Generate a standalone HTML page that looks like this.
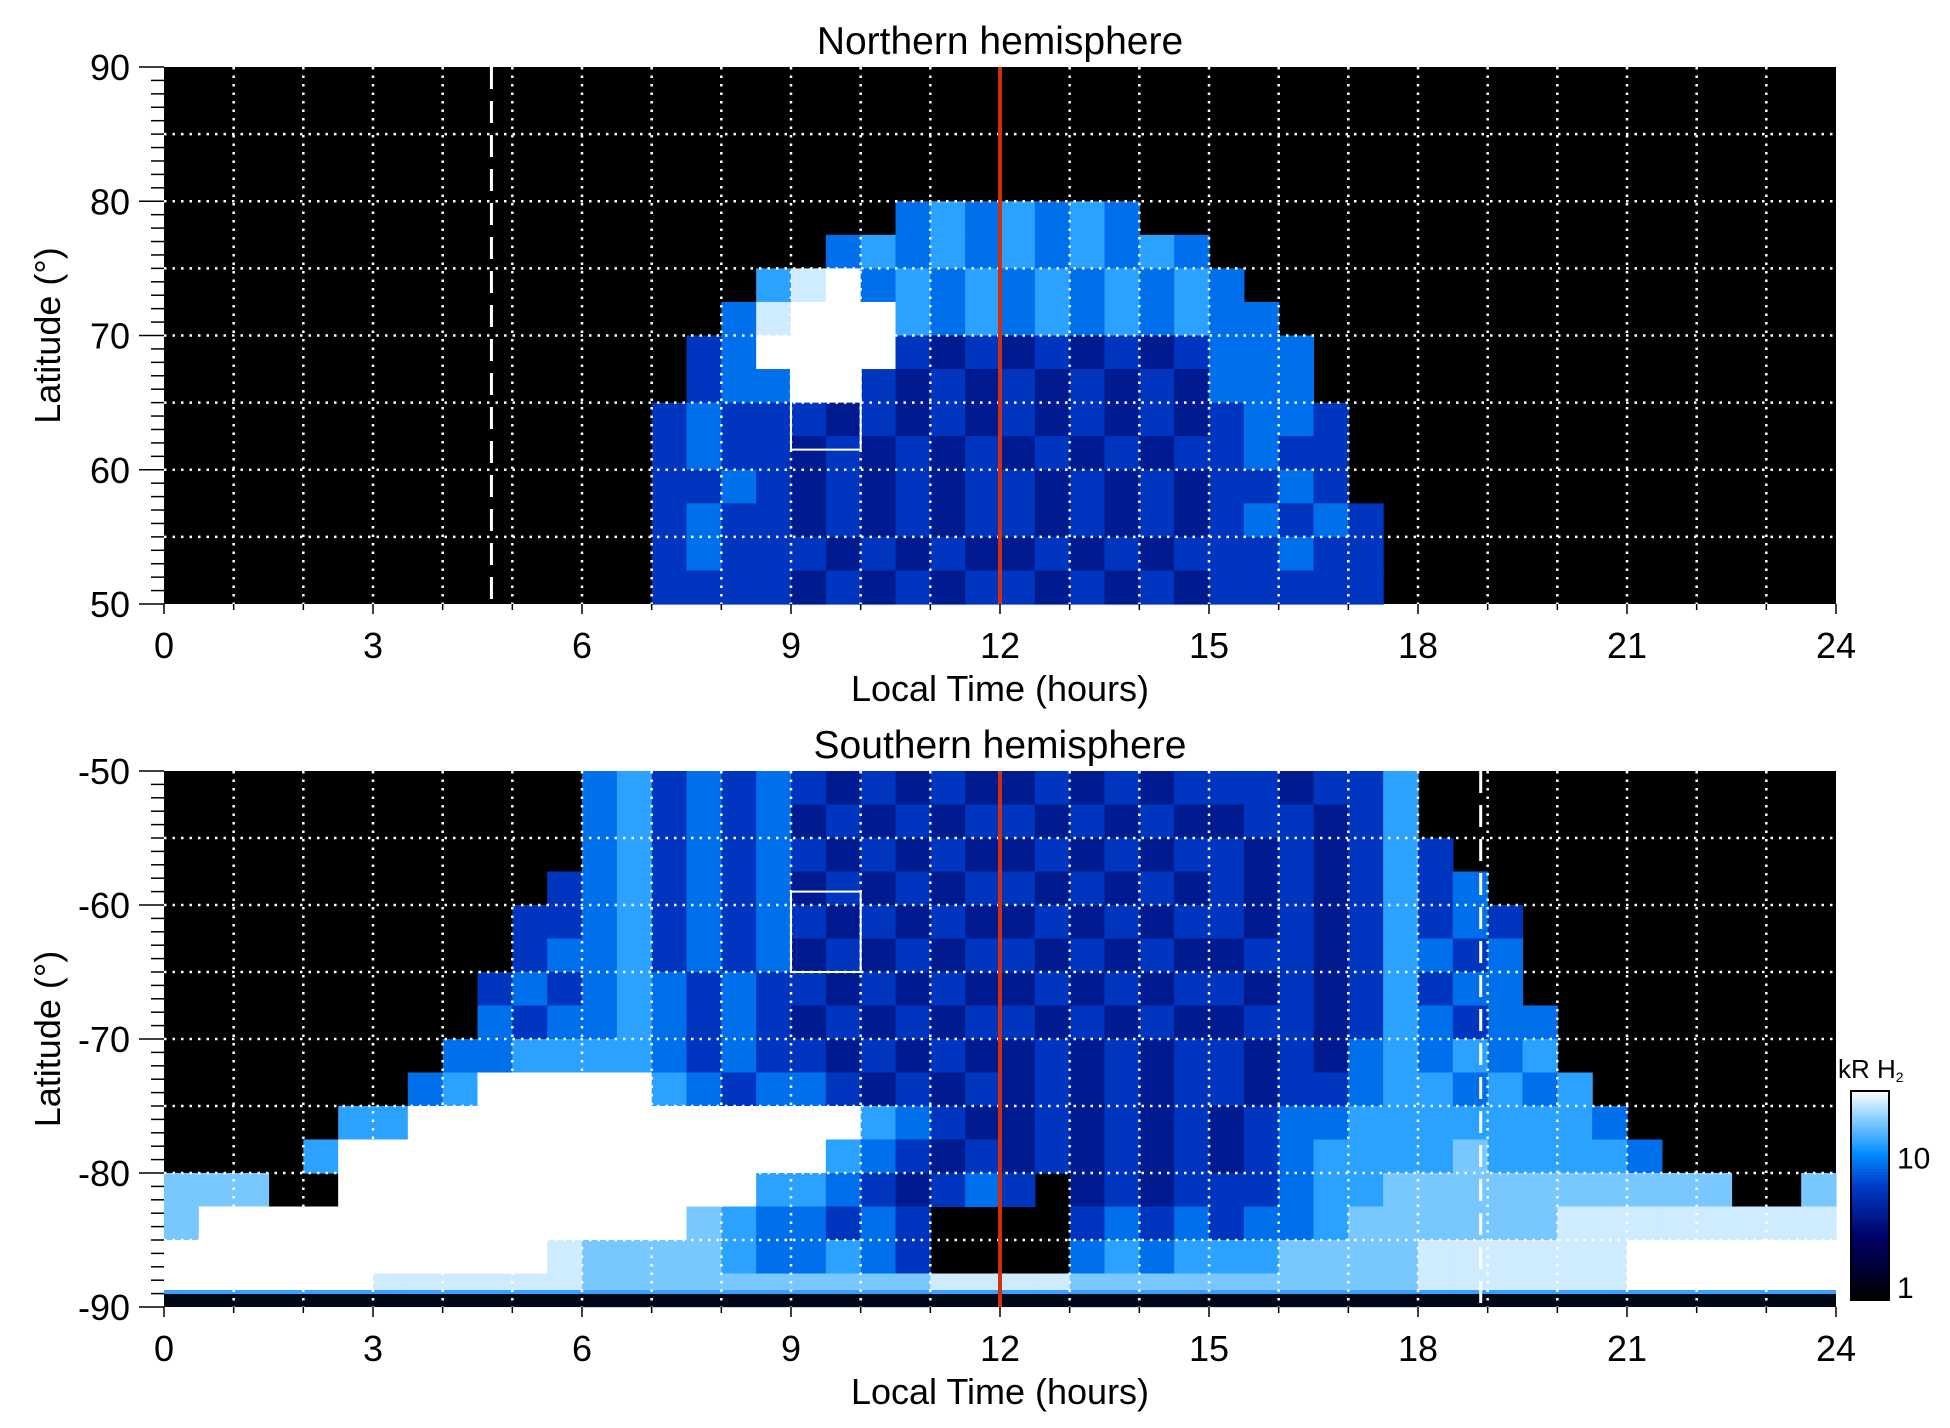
<!DOCTYPE html>
<html><head><meta charset="utf-8"><style>
body{margin:0;background:#fff;}
svg text{font-family:"Liberation Sans",sans-serif;fill:#000;}
</style></head><body>
<svg id="fig" width="1950" height="1423" xmlns="http://www.w3.org/2000/svg"></svg>
<script>
// Local time bins: 48 columns of 0.5 h (grouped 6 per 3 h); latitude bands of 2.5 deg. Codes are intensity levels 0-9.
const levelKR = [0.8,1.5,2.5,4,6,9,13,18,25,32];
const northLatTop = [90,87.5,85,82.5,80,77.5,75,72.5,70,67.5,65,62.5,60,57.5,55,52.5];
const northRows = [
"000000 000000 000000 000000 000000 000000 000000 000000",
"000000 000000 000000 000000 000000 000000 000000 000000",
"000000 000000 000000 000000 000000 000000 000000 000000",
"000000 000000 000000 000000 000000 000000 000000 000000",
"000000 000000 000000 000565 656500 000000 000000 000000",
"000000 000000 000000 056565 656565 000000 000000 000000",
"000000 000000 000006 895656 565656 500000 000000 000000",
"000000 000000 000058 999656 565656 550000 000000 000000",
"000000 000000 000459 999434 343434 555000 000000 000000",
"000000 000000 000455 994343 434343 555000 000000 000000",
"000000 000000 004544 434343 434343 455400 000000 000000",
"000000 000000 004544 343434 343434 454400 000000 000000",
"000000 000000 004454 343434 434343 445400 000000 000000",
"000000 000000 004544 343434 434343 454540 000000 000000",
"000000 000000 004544 434343 343434 445440 000000 000000",
"000000 000000 004444 343434 434343 444440 000000 000000"];
const southLatTop = [-50,-52.5,-55,-57.5,-60,-62.5,-65,-67.5,-70,-72.5,-75,-77.5,-80,-82.5,-85,-87.5];
const southRows = [
"000000 000000 564545 434343 343434 443446 000000 000000",
"000000 000000 564545 343434 434343 344346 000000 000000",
"000000 000000 564545 434343 343434 434346 400000 000000",
"000000 000004 564545 343434 434343 434346 450000 000000",
"000000 000044 564545 434343 343434 434346 454000 000000",
"000000 000045 564545 343434 434343 344346 545000 000000",
"000000 000454 565454 434343 343434 434346 455000 000000",
"000000 000545 565454 343434 434343 344346 545500 000000",
"000000 005566 665454 434343 343434 434356 565600 000000",
"000000 056999 996545 543434 343434 434456 656560 000000",
"000006 699999 999999 996543 343434 345566 666665 000000",
"000069 999999 999999 965434 343434 345666 676666 500000",
"777009 999999 999996 654345 403434 445667 777777 777007",
"799999 999999 999765 545400 004545 455677 777788 888888",
"999999 999998 777765 565400 005656 667777 888888 999999",
"999999 888888 777777 777788 887777 777777 888888 999999"];
const xTicks = [0,3,6,9,12,15,18,21,24];
const northYTicks = [90,80,70,60,50];
const southYTicks = [-50,-60,-70,-80,-90];
const cbTicks = [1,10];
const noonLT = 12, northDashLT = 4.7, southDashLT = 18.9;
const northBox = [9,10,61.5,67.5], southBox = [9,10,-65,-59];

const NS='http://www.w3.org/2000/svg';
const svg=document.getElementById('fig');
function mk(tag,attrs,parent){const e=document.createElementNS(NS,tag);for(const k in attrs)e.setAttribute(k,attrs[k]);(parent||svg).appendChild(e);return e;}
function lerp(a,b,t){return a+(b-a)*t;}
function color(v){
  let t=Math.log10(v)/Math.log10(30);t=Math.max(0,Math.min(1,t));
  const st=[[0,0,0,0],[0.3,0,0,100],[0.55,0,60,200],[0.7,0,140,255],[0.85,120,200,255],[1,255,255,255]];
  for(let i=1;i<st.length;i++){if(t<=st[i][0]){const a=st[i-1],b=st[i],u=(t-a[0])/(b[0]-a[0]);
    return `rgb(${Math.round(lerp(a[1],b[1],u))},${Math.round(lerp(a[2],b[2],u))},${Math.round(lerp(a[3],b[3],u))})`;}}
  return '#fff';
}
const X0=164,X1=1836;
const xs=h=>X0+(X1-X0)*h/24;

function panel(name,top,bottom,latTop,latBot,rows,latTops,yTicks,title,dashLT,box,extra){
  const ys=l=>top+(bottom-top)*(latTop-l)/(latTop-latBot);
  const g=mk('g',{});
  
  
  const bg=mk('rect',{x:X0,y:top,width:X1-X0,height:bottom-top,fill:'#000'},g);
  
  
  const cw=(X1-X0)/48;
  rows.forEach((row,r)=>{
    const s=row.replace(/ /g,'').padEnd(48,'0').slice(0,48);
    const y1=ys(latTops[r]), y2=ys(latTops[r]-2.5);
    for(let c=0;c<48;c++){const L=+s[c];if(L===0)continue;
      const cell=mk('rect',{x:xs(c*0.5),y:Math.min(y1,y2),width:cw+0.6,height:Math.abs(y2-y1)+0.6,fill:color(levelKR[L])},g);
      
      
    }
  });
  if(extra) extra(g);
  for(let h=1;h<24;h++){const l=mk('line',{x1:xs(h),x2:xs(h),y1:top,y2:bottom,stroke:'#fff','stroke-width':2.5,'stroke-dasharray':'2.5 6'},g);
    }
  for(let l=Math.min(latTop,latBot);l<=Math.max(latTop,latBot);l+=5){const y=ys(l);if(y<=top+1||y>=bottom-1)continue;
    const gl=mk('line',{x1:X0,x2:X1,y1:y,y2:y,stroke:'#fff','stroke-width':2.5,'stroke-dasharray':'2.5 6'},g);
    }
  const dl=mk('line',{x1:xs(dashLT),x2:xs(dashLT),y1:top,y2:bottom,stroke:'#fff','stroke-width':3,'stroke-dasharray':'22 12'},g);
  
  const bx=mk('rect',{x:xs(box[0]),y:Math.min(ys(box[2]),ys(box[3])),width:xs(box[1])-xs(box[0]),height:Math.abs(ys(box[3])-ys(box[2])),fill:'none',stroke:'#fff','stroke-width':2},g);
  
  const rl=mk('line',{x1:xs(noonLT),x2:xs(noonLT),y1:top,y2:bottom,stroke:'#d03010','stroke-width':4},g);
  
  const lo=Math.min(latTop,latBot),hi=Math.max(latTop,latBot);
  for(let l=lo;l<=hi;l++){const y=ys(l);const major=(l%10===0);
    const t=mk('line',{x1:major?139:151,x2:X0,y1:y,y2:y,stroke:'#000','stroke-width':1.5},g);
    }
  yTicks.forEach(v=>{const t=mk('text',{x:130,y:ys(v)+13,'font-size':36,'text-anchor':'end'},g);t.textContent=v;
    });
  for(let h=0;h<=24;h++){const major=h%3===0;
    const t=mk('line',{x1:xs(h),x2:xs(h),y1:bottom,y2:bottom+(major?10:6),stroke:'#000','stroke-width':1.5},g);
    }
  xTicks.forEach(v=>{const t=mk('text',{x:xs(v),y:bottom+54,'font-size':36,'text-anchor':'middle'},g);t.textContent=v;
    });
  const xt=mk('text',{x:(X0+X1)/2,y:bottom+97,'font-size':36,'text-anchor':'middle'},g);xt.textContent='Local Time (hours)';
  
  const cy=(top+bottom)/2;
  const yt=mk('text',{x:0,y:0,'font-size':36,'text-anchor':'middle',transform:`translate(60,${cy}) rotate(-90)`},g);yt.textContent='Latitude (°)';
  
  const tt=mk('text',{x:(X0+X1)/2,y:top-13,'font-size':39,'text-anchor':'middle'},g);tt.textContent=title;
  
  return ys;
}
panel('northern',67,604,90,50,northRows,northLatTop,northYTicks,'Northern hemisphere',northDashLT,northBox);
panel('southern',771,1307,-50,-90,southRows,southLatTop,southYTicks,'Southern hemisphere',southDashLT,southBox,function(g){
  const bl2=mk('rect',{x:X0,y:1290,width:X1-X0,height:4,fill:'#3aa0ff'},g);
  
  
  const bl=mk('rect',{x:X0,y:1294,width:X1-X0,height:13,fill:'#000818'},g);
  
  
});

const CB={x:1851,w:38,top:1091,bot:1300,vmin:1,vmax:30};
const cbY=v=>CB.bot-(CB.bot-CB.top)*Math.log10(v/CB.vmin)/Math.log10(CB.vmax/CB.vmin);
const cg=mk('g',{});


for(let i=0;i<70;i++){const v0=Math.pow(30,i/70),v1=Math.pow(30,(i+1)/70);
  const s=mk('rect',{x:CB.x,y:cbY(v1),width:CB.w,height:cbY(v0)-cbY(v1)+0.5,fill:color(Math.sqrt(v0*v1))},cg);
  }
const cbf=mk('rect',{x:CB.x,y:CB.top,width:CB.w,height:CB.bot-CB.top,fill:'none',stroke:'#000','stroke-width':2},cg);

cbTicks.forEach(v=>{const t=mk('text',{x:CB.x+CB.w+8,y:cbY(v)+(v===1?-2:10),'font-size':30},cg);t.textContent=v;
  });
const cbl=mk('text',{x:1838,y:1078,'font-size':26},cg);cbl.textContent='kR H';

const sub=mk('tspan',{'font-size':14,dy:4},cbl);sub.textContent='2';
</script>
</body></html>
